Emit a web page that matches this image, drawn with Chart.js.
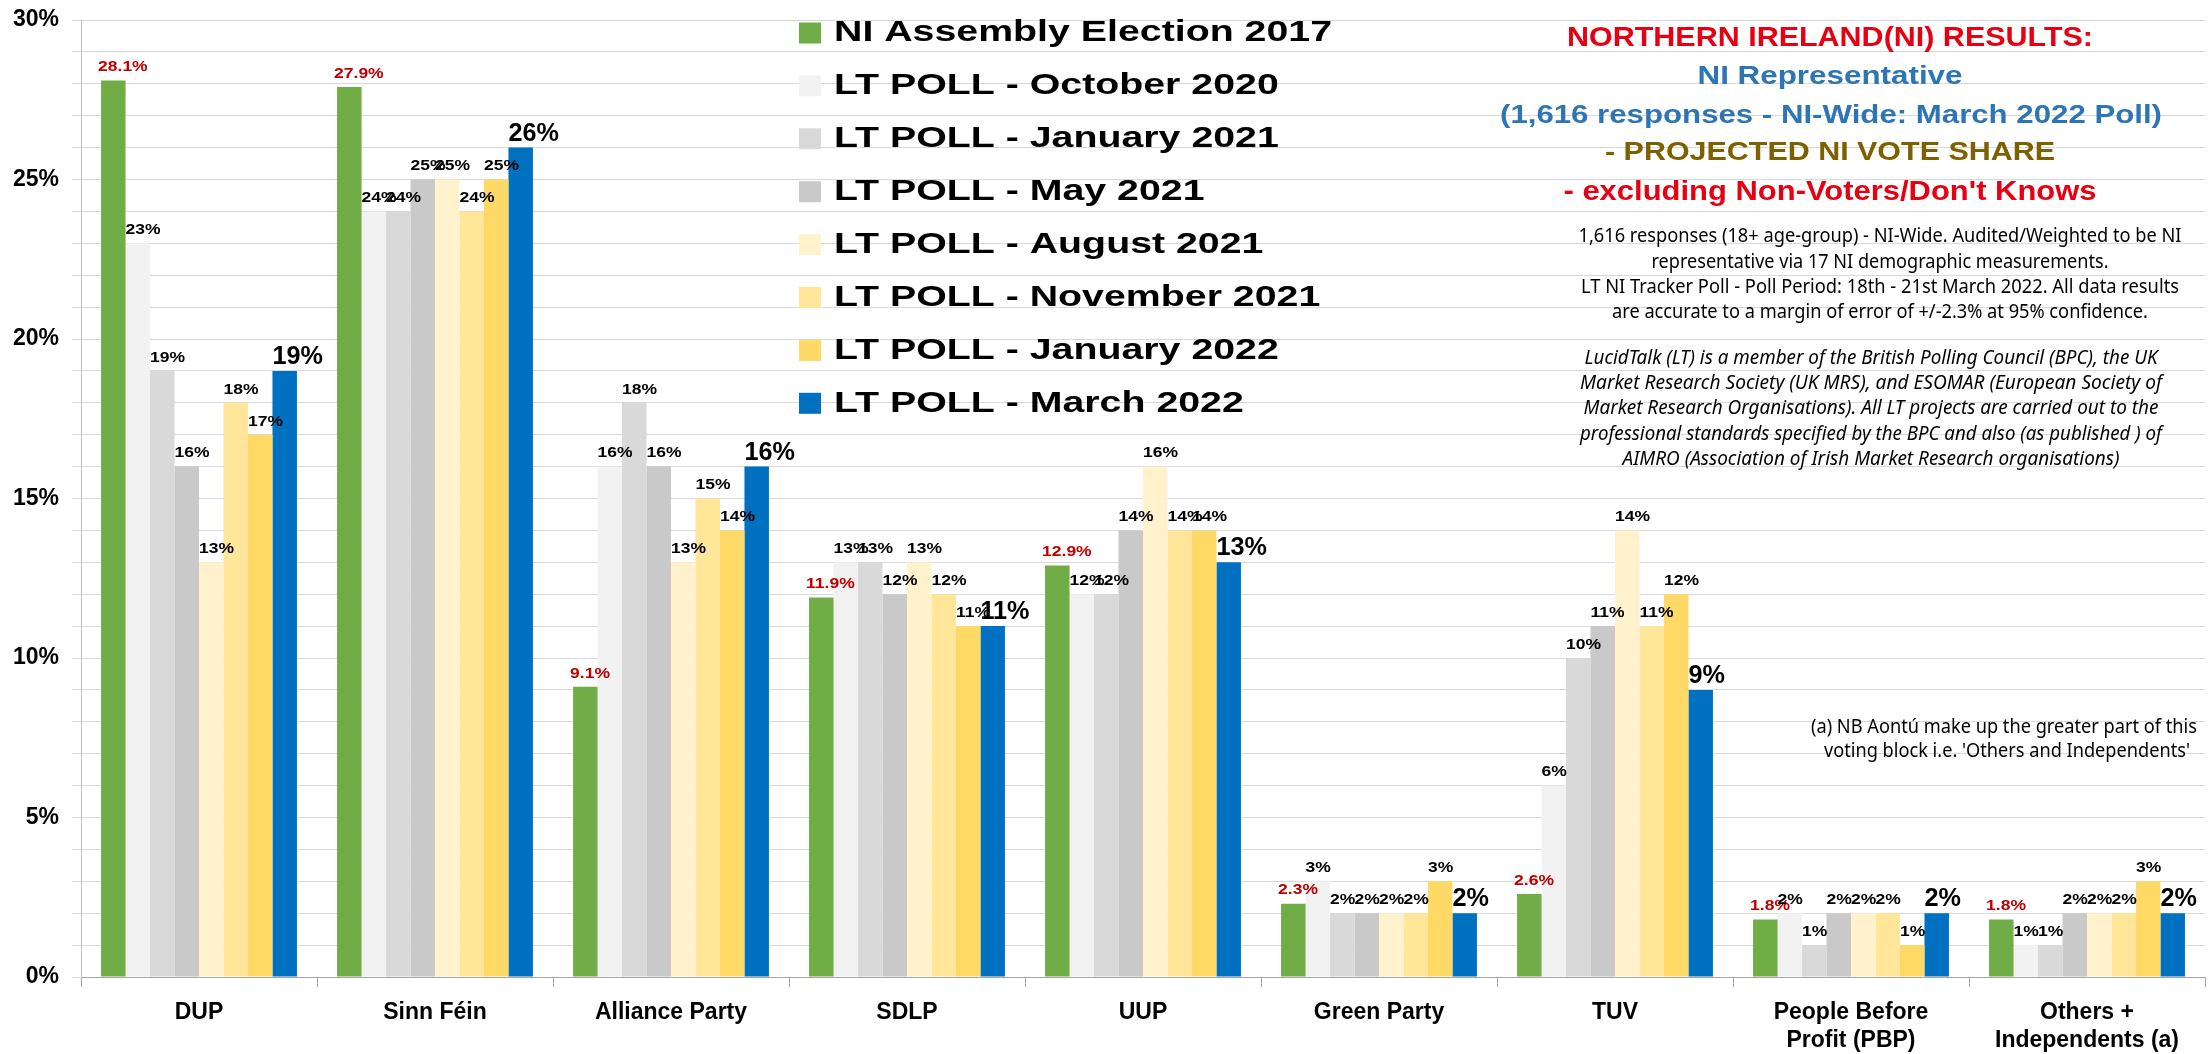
<!DOCTYPE html>
<html>
<head>
<meta charset="utf-8">
<title>NI Assembly - LT Poll tracker</title>
<script src="https://cdn.jsdelivr.net/npm/chart.js@4.4.1/dist/chart.umd.min.js"></script>
<style>
    html, body { margin: 0; padding: 0; background: #fff; }
    #voteChart { display: block; }
</style>
</head>
<body>
<canvas id="voteChart" width="2210" height="1054"></canvas>
<script>
/* ---------- data ---------- */
const parties = ['DUP', 'Sinn Féin', 'Alliance Party', 'SDLP', 'UUP', 'Green Party', 'TUV',
    ['People Before', 'Profit (PBP)'], ['Others +', 'Independents (a)']];

const seriesNames = [
    'NI Assembly Election 2017',
    'LT POLL - October 2020',
    'LT POLL - January 2021',
    'LT POLL - May 2021',
    'LT POLL - August 2021',
    'LT POLL - November 2021',
    'LT POLL - January 2022',
    'LT POLL - March 2022'
];

const election2017 = [28.1, 27.9, 9.1, 11.9, 12.9, 2.3, 2.6, 1.8, 1.8];
const poll2020Oct  = [23, 24, 16, 13, 12, 3, 6, 2, 1];
const poll2021Jan  = [19, 24, 18, 13, 12, 2, 10, 1, 1];
const poll2021May  = [16, 25, 16, 12, 14, 2, 11, 2, 2];
const poll2021Aug  = [13, 25, 13, 13, 16, 2, 14, 2, 2];
const poll2021Nov  = [18, 24, 15, 12, 14, 2, 11, 2, 2];
const poll2022Jan  = [17, 25, 14, 11, 14, 3, 12, 1, 3];
const poll2022Mar  = [19, 26, 16, 11, 13, 2, 9, 2, 2];

const yMax = 30;
const yMajorStep = 5;

const seriesColors = ['#70ad47', '#f2f2f2', '#d9d9d9', '#c9c9c9', '#fff2cc', '#ffe699', '#ffd966', '#0070c0'];

const FONT = "'Liberation Sans', Arial, sans-serif";
const BODY_FONT = "'Noto Sans', 'Open Sans', sans-serif";

// text is drawn a little wider than normal, like the original screenshot
function stretchText(ctx, text, x, y, font, color, sx, align) {
    ctx.save();
    ctx.font = font;
    ctx.fillStyle = color;
    ctx.textAlign = align || 'center';
    ctx.textBaseline = 'middle';
    ctx.translate(x, y);
    ctx.scale(sx, 1);
    ctx.fillText(text, 0, 0);
    ctx.restore();
}

function fitText(ctx, text, cx, cy, font, color, width) {
    ctx.save();
    ctx.font = font;
    const sx = width / ctx.measureText(text).width;
    ctx.restore();
    stretchText(ctx, text, cx, cy, font, color, sx, 'center');
}

/* ---------- plugins ---------- */
// labels sit on the bar's left edge, as in the original
const barLabels = {
    id: 'barLabels',
    afterDatasetsDraw(chart) {
        const ctx = chart.ctx;
        const last = chart.data.datasets.length - 1;
        chart.data.datasets.forEach((ds, i) => {
            const meta = chart.getDatasetMeta(i);
            meta.data.forEach((bar, j) => {
                const v = ds.data[j];
                const left = bar.x - bar.width / 2;
                if (i === 0) {
                    stretchText(ctx, v.toFixed(1) + '%', left - 3, bar.y - 13, 'bold 14px ' + FONT, '#c00000', 1.25, 'left');
                } else if (i === last) {
                    stretchText(ctx, v + '%', left, bar.y - 14, 'bold 26px ' + FONT, '#000', 0.97, 'left');
                } else {
                    stretchText(ctx, v + '%', left, bar.y - 13, 'bold 14px ' + FONT, '#000', 1.25, 'left');
                }
            });
        });
    }
};

const sideLegend = {
    id: 'sideLegend',
    afterDraw(chart) {
        const ctx = chart.ctx;
        chart.data.datasets.forEach((ds, i) => {
            const cy = 33 + i * 52.9;
            ctx.fillStyle = ds.backgroundColor;
            ctx.fillRect(799, cy - 10.5, 22, 21);
            stretchText(ctx, ds.label, 834, cy, 'bold 30px ' + FONT, '#000', 1.31, 'left');
        });
    }
};

const notes = {
    id: 'notes',
    afterDraw(chart) {
        const ctx = chart.ctx;
        // heading block
        fitText(ctx, 'NORTHERN IRELAND(NI) RESULTS:', 1830, 38, 'bold 28px ' + FONT, '#e60012', 526);
        fitText(ctx, 'NI Representative', 1830, 77, 'bold 25px ' + FONT, '#2e75b6', 265);
        fitText(ctx, '(1,616 responses - NI-Wide: March 2022 Poll)', 1831, 116, 'bold 25px ' + FONT, '#2e75b6', 662);
        fitText(ctx, '- PROJECTED NI VOTE SHARE', 1830, 153, 'bold 26px ' + FONT, '#7f6000', 450);
        fitText(ctx, "- excluding Non-Voters/Don't Knows", 1830, 193, 'bold 27px ' + FONT, '#e60012', 533);

        // method text
        const method = [
            ['1,616 responses (18+ age-group) - NI-Wide. Audited/Weighted to be NI', 237, 603],
            ['representative via 17 NI demographic measurements.', 263, 457],
            ['LT NI Tracker Poll - Poll Period: 18th - 21st March 2022. All data results', 288, 598],
            ['are accurate to a margin of error of +/-2.3% at 95% confidence.', 313, 536]
        ];
        method.forEach(([t, y, w]) => fitText(ctx, t, 1880, y, '19px ' + BODY_FONT, '#000', w));

        const member = [
            ['LucidTalk (LT) is a member of the British Polling Council (BPC), the UK', 359, 573],
            ['Market Research Society (UK MRS), and ESOMAR (European Society of', 384, 582],
            ['Market Research Organisations). All LT projects are carried out to the', 409, 575],
            ['professional standards specified by the BPC and also (as published ) of', 435, 582],
            ['AIMRO (Association of Irish Market Research organisations)', 460, 497]
        ];
        member.forEach(([t, y, w]) => fitText(ctx, t, 1871, y, 'italic 19px ' + BODY_FONT, '#000', w));

        fitText(ctx, '(a) NB Aontú make up the greater part of this', 2004, 728, '19px ' + BODY_FONT, '#000', 386);
        fitText(ctx, "voting block i.e. 'Others and Independents'", 2007, 752, '19px ' + BODY_FONT, '#000', 366);
    }
};

/* ---------- chart ---------- */
const seriesValues = [election2017, poll2020Oct, poll2021Jan, poll2021May, poll2021Aug, poll2021Nov, poll2022Jan, poll2022Mar];

new Chart(document.getElementById('voteChart'), {
    type: 'bar',
    data: {
        labels: parties,
        datasets: seriesValues.map((vals, i) => ({
            label: seriesNames[i],
            data: vals,
            backgroundColor: seriesColors[i],
            borderWidth: 0,
            categoryPercentage: 0.83,
            barPercentage: 1.0
        }))
    },
    options: {
        responsive: false,
        animation: false,
        devicePixelRatio: 1,
        layout: { padding: { top: 20, right: 5, left: 0, bottom: 0 } },
        plugins: { legend: { display: false }, tooltip: { enabled: false } },
        scales: {
            x: {
                grid: { offset: true, drawOnChartArea: false, drawTicks: true, tickLength: 10, color: '#a6a6a6' },
                border: { color: '#a6a6a6' },
                ticks: { color: '#000', font: { family: FONT, size: 23, weight: 'bold' }, padding: 12, maxRotation: 0, autoSkip: false },
                afterFit(scale) { scale.height = 77; }
            },
            y: {
                min: 0, max: yMax,
                grid: { color: '#d9d9d9', tickLength: 9 },
                border: { color: '#bfbfbf' },
                ticks: {
                    stepSize: 1, autoSkip: false,
                    callback: v => (v % yMajorStep === 0 ? v + '%' : ''),
                    color: '#000', font: { family: FONT, size: 23, weight: 'bold' }, padding: 13
                },
                afterFit(scale) {
                    scale.width = 81;
                    scale.paddingTop = 0;
                    scale.paddingBottom = 0;
                }
            }
        }
    },
    plugins: [barLabels, sideLegend, notes]
});
</script>
</body>
</html>
